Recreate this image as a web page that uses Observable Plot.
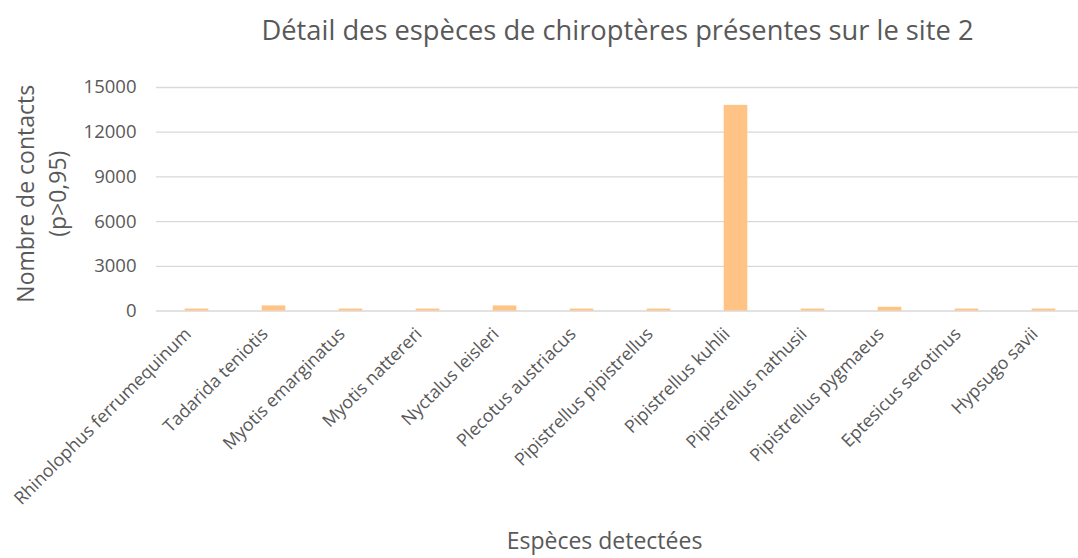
<!DOCTYPE html>
<html><head><meta charset="utf-8">
<script src="https://cdn.jsdelivr.net/npm/d3@7"></script>
<script src="https://cdn.jsdelivr.net/npm/@observablehq/plot@0.6"></script>
<style>body{margin:0;background:#fff;}</style>
</head><body><div id="chart"></div>
<script>
const species = ["Rhinolophus ferrumequinum","Tadarida teniotis","Myotis emarginatus","Myotis nattereri","Nyctalus leisleri","Plecotus austriacus","Pipistrellus pipistrellus","Pipistrellus kuhlii","Pipistrellus nathusii","Pipistrellus pygmaeus","Eptesicus serotinus","Hypsugo savii"];
const contacts = [130, 340, 130, 130, 340, 130, 130, 13800, 130, 250, 130, 130];
const yTicks = [0, 3000, 6000, 9000, 12000, 15000];
const title = "Détail des espèces de chiroptères présentes sur le site 2";
const yLabel = "Nombre de contacts\n(p>0,95)";
const xLabel = "Espèces detectées";
const data = species.map((s, i) => ({species: s, contacts: contacts[i]}));
const font = "'Open Sans', sans-serif";
const plot = Plot.plot({
  width: 1078, height: 558,
  marginTop: 87, marginBottom: 247.5, marginLeft: 156, marginRight: 0,
  style: {fontFamily: font, color: "#595959", background: "#fff"},
  x: {domain: species, range: [155.3, 1083.7], padding: 0},
  y: {domain: [0, 15000]},
  marks: [
    Plot.ruleY(yTicks, {stroke: "#d9d9d9", strokeWidth: 1.3}),
    Plot.barY(data, {x: "species", y: "contacts", fill: "#ffc386", insetLeft: 26.7, insetRight: 26.7}),
    Plot.axisY({ticks: yTicks, tickSize: 0, tickPadding: 20, fontSize: 18.5, label: null, tickFormat: d => String(d)}),
    Plot.axisX({tickSize: 0, tickRotate: -45, fontSize: 17.8, tickPadding: 20, dx: -9, label: null}),
    Plot.text([title], {frameAnchor: "top", textAnchor: "middle", lineAnchor: "middle", dy: -56, fontSize: 27.3}),
    Plot.text([yLabel], {frameAnchor: "left", textAnchor: "middle", lineAnchor: "middle", dx: -117, dy: -5.5, rotate: -90, fontSize: 23, lineHeight: 1.39}),
    Plot.text([xLabel], {frameAnchor: "bottom", textAnchor: "middle", lineAnchor: "middle", dx: -13, dy: 231, fontSize: 23})
  ]
});
document.getElementById("chart").appendChild(plot);
</script></body></html>
